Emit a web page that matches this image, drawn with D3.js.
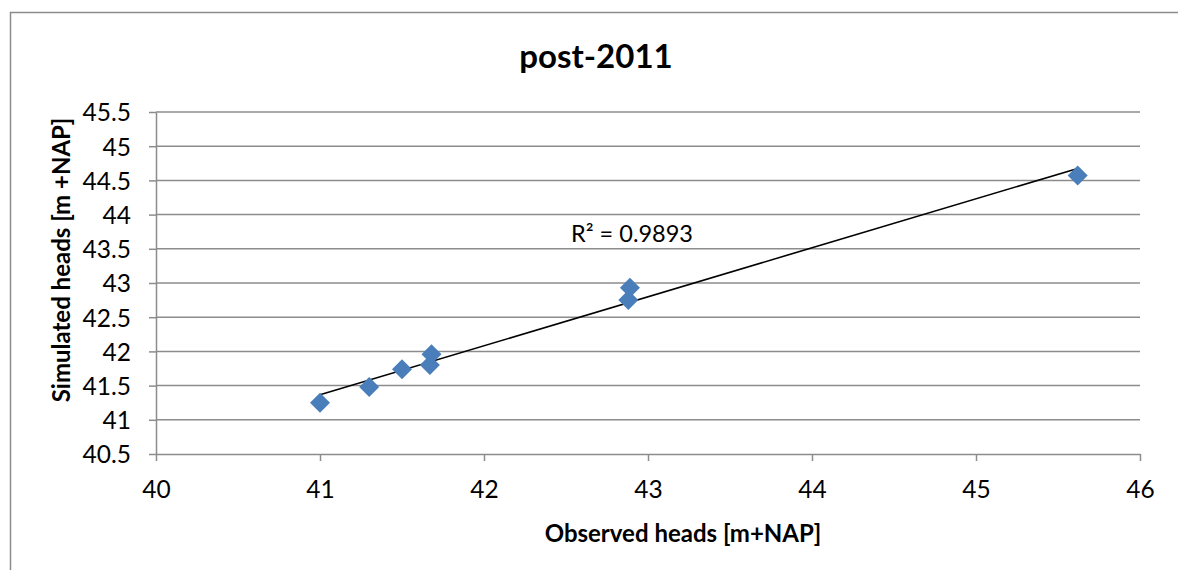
<!DOCTYPE html>
<html>
<head>
<meta charset="utf-8">
<script src="https://cdn.jsdelivr.net/npm/d3@7"></script>
<style>
  html, body { margin: 0; padding: 0; background: #fff; }
  svg { display: block; font-family: Lato, "Open Sans", sans-serif; }
</style>
</head>
<body>
<svg id="chart" width="1178" height="570"></svg>
<script>
// Observed vs simulated heads, post-2011
const observed  = [41.00, 41.30, 41.50, 41.67, 41.68, 42.88, 42.89, 45.62];
const simulated = [41.25, 41.48, 41.74, 41.80, 41.96, 42.75, 42.93, 44.57];
const xTicks = [40, 41, 42, 43, 44, 45, 46];
const yTicks = [40.5, 41, 41.5, 42, 42.5, 43, 43.5, 44, 44.5, 45, 45.5];
const titleText = "post-2011";
const xTitle = "Observed heads [m+NAP]";
const yTitle = "Simulated heads [m +NAP]";
const r2Label = "R² = 0.9893";

const svg = d3.select("#chart");

// outer chart frame
svg.append("rect")
  .attr("x", 10.5).attr("y", 12.5)
  .attr("width", 1200).attr("height", 600)
  .attr("fill", "none").attr("stroke", "#8c8c8c").attr("stroke-width", 1.5);

const x = d3.scaleLinear().domain([40, 46]).range([156, 1140]);
const y = d3.scaleLinear().domain([40.5, 45.5]).range([454, 112]);

// horizontal gridlines
svg.append("g")
  .selectAll("line")
  .data(yTicks.slice(1))
  .join("line")
  .attr("x1", x(40)).attr("x2", x(46))
  .attr("y1", d => y(d)).attr("y2", d => y(d))
  .attr("stroke", "#8c8c8c").attr("stroke-width", 1.5);

// y axis
const yAxis = svg.append("g")
  .attr("transform", `translate(${x(40)},0)`)
  .call(d3.axisLeft(y).tickValues(yTicks).tickSize(7).tickSizeOuter(0).tickPadding(18)
    .tickFormat(d => String(d)));
yAxis.select(".domain").attr("stroke", "#8c8c8c").attr("stroke-width", 1.5);
yAxis.selectAll(".tick line").attr("stroke", "#8c8c8c").attr("stroke-width", 1.5);
yAxis.selectAll(".tick text")
  .attr("font-family", "Lato, sans-serif").attr("font-size", 24.5).attr("fill", "#000")
  .attr("dy", "0.36em");

// x axis
const xAxis = svg.append("g")
  .attr("transform", `translate(0,${y(40.5)})`)
  .call(d3.axisBottom(x).tickValues(xTicks).tickSize(7).tickSizeOuter(0).tickPadding(20)
    .tickFormat(d3.format("d")));
xAxis.select(".domain").attr("stroke", "#8c8c8c").attr("stroke-width", 1.5);
xAxis.selectAll(".tick line").attr("stroke", "#8c8c8c").attr("stroke-width", 1.5);
xAxis.selectAll(".tick text")
  .attr("font-family", "Lato, sans-serif").attr("font-size", 24.5).attr("fill", "#000");

// least-squares trendline through the points
const mx = d3.mean(observed), my = d3.mean(simulated);
let sxy = 0, sxx = 0;
observed.forEach((ox, i) => { sxy += (ox - mx) * (simulated[i] - my); sxx += (ox - mx) ** 2; });
const slope = sxy / sxx, intercept = my - slope * mx;
const x0 = d3.min(observed), x1 = d3.max(observed);
svg.append("line")
  .attr("x1", x(x0)).attr("y1", y(intercept + slope * x0))
  .attr("x2", x(x1)).attr("y2", y(intercept + slope * x1))
  .attr("stroke", "#000").attr("stroke-width", 1.6);

// diamond markers
const diamond = "M0,-10L10,0L0,10L-10,0Z";
svg.append("g")
  .selectAll("path")
  .data(observed.map((ox, i) => [ox, simulated[i]]))
  .join("path")
  .attr("d", diamond)
  .attr("transform", d => `translate(${x(d[0])},${y(d[1])})`)
  .attr("fill", "#4a7ebb");

// trendline R² label
svg.append("text")
  .attr("x", 632).attr("y", 242)
  .attr("text-anchor", "middle")
  .attr("font-size", 23.5).attr("fill", "#000")
  .text(r2Label);

// title
svg.append("text")
  .attr("x", 596).attr("y", 68)
  .attr("text-anchor", "middle")
  .attr("font-size", 33).attr("font-weight", "bold").attr("fill", "#000")
  .text(titleText);

// axis titles
svg.append("text")
  .attr("x", 683).attr("y", 542)
  .attr("text-anchor", "middle")
  .attr("font-size", 24).attr("font-weight", "bold").attr("fill", "#000")
  .text(xTitle);

svg.append("text")
  .attr("transform", "translate(70,260) rotate(-90)")
  .attr("text-anchor", "middle")
  .attr("font-size", 24).attr("font-weight", "bold").attr("fill", "#000")
  .text(yTitle);
</script>
</body>
</html>
